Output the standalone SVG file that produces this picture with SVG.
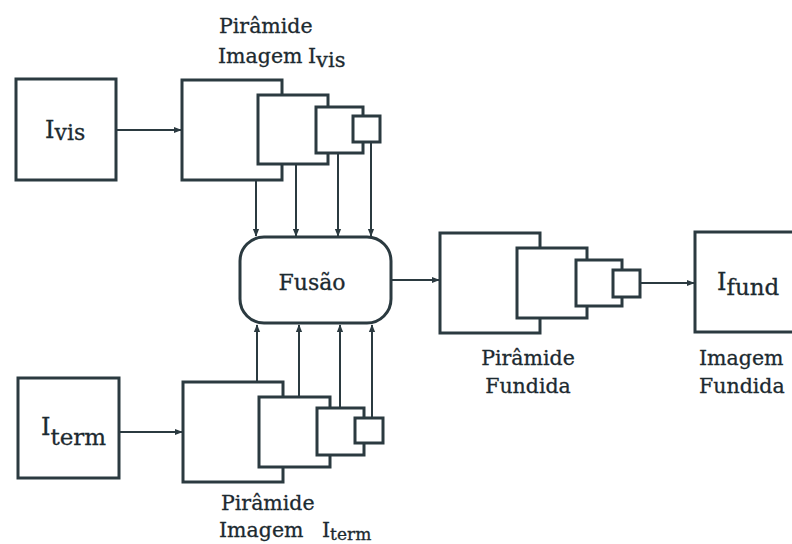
<svg xmlns="http://www.w3.org/2000/svg" width="792" height="544" viewBox="0 0 792 544">
<defs>
<marker id="ah" viewBox="0 0 10 10" refX="9" refY="5" markerWidth="4" markerHeight="4" orient="auto" markerUnits="strokeWidth">
<path d="M0,1 L10,5 L0,9 z" fill="#2b3a40"/>
</marker>
<style>
.b{fill:#fff;stroke:#2b3a40;stroke-width:3}
.c{stroke:#2b3a40;stroke-width:2;fill:none;marker-end:url(#ah)}
text{font-family:"DejaVu Serif","Liberation Serif",serif;fill:#1c2a30;stroke:#1c2a30;stroke-width:0.3}
.l{font-size:20.5px}
</style>
</defs>
<rect width="792" height="544" fill="#fff"/>
<g id="connectors">
<line class="c" x1="116" y1="130" x2="181" y2="130"/>
<line class="c" x1="119" y1="432" x2="182" y2="432"/>
<line class="c" x1="256" y1="180" x2="256" y2="236"/>
<line class="c" x1="296" y1="164" x2="296" y2="236"/>
<line class="c" x1="338" y1="153" x2="338" y2="236"/>
<line class="c" x1="371" y1="142" x2="371" y2="236"/>
<line class="c" x1="257" y1="382" x2="257" y2="325"/>
<line class="c" x1="299" y1="397" x2="299" y2="325"/>
<line class="c" x1="340" y1="408" x2="340" y2="325"/>
<line class="c" x1="372" y1="418" x2="372" y2="325"/>
<line class="c" x1="391" y1="280" x2="439" y2="280"/>
<line class="c" x1="640" y1="283" x2="694" y2="283"/>
</g>
<g id="ivis">
<rect class="b" x="16" y="79" width="100" height="101"/>
<text x="45" y="138" font-size="24">I<tspan font-size="22" dy="2">vis</tspan></text>
</g>
<g id="iterm">
<rect class="b" x="18" y="378" width="101" height="100"/>
<text x="41" y="435" font-size="24">I<tspan font-size="23" dy="10">term</tspan></text>
</g>
<g id="pyr-vis">
<rect class="b" x="182" y="80" width="100" height="100"/>
<rect class="b" x="258" y="95" width="70" height="69"/>
<rect class="b" x="316" y="107" width="47" height="46"/>
<rect class="b" x="353" y="116" width="27" height="26"/>
<text class="l" x="219" y="33">Pirâmide</text>
<text class="l" x="218" y="63">Imagem</text>
<text class="l" x="308" y="63">I<tspan font-size="21" dy="4">vis</tspan></text>
</g>
<g id="pyr-term">
<rect class="b" x="183" y="382" width="100" height="100"/>
<rect class="b" x="259" y="397" width="71" height="70"/>
<rect class="b" x="317" y="408" width="47" height="47"/>
<rect class="b" x="355" y="418" width="28" height="25"/>
<text class="l" x="221" y="510">Pirâmide</text>
<text class="l" x="219" y="537">Imagem</text>
<text class="l" x="322" y="537">I<tspan font-size="17" dy="3">term</tspan></text>
</g>
<g id="fusao">
<rect class="b" x="240" y="237" width="151" height="86" rx="24" ry="24"/>
<text x="312" y="290" font-size="22" text-anchor="middle">Fusão</text>
</g>
<g id="pyr-fund">
<rect class="b" x="440" y="233" width="100" height="100"/>
<rect class="b" x="517" y="248" width="70" height="70"/>
<rect class="b" x="576" y="260" width="46" height="46"/>
<rect class="b" x="613" y="270" width="27" height="27"/>
<text class="l" x="528" y="365" text-anchor="middle">Pirâmide</text>
<text class="l" x="528" y="393" text-anchor="middle">Fundida</text>
</g>
<g id="ifund">
<rect class="b" x="695" y="232" width="110" height="100"/>
<text x="717" y="290" font-size="24">I<tspan font-size="23" dy="5">fund</tspan></text>
<text class="l" x="699" y="365">Imagem</text>
<text class="l" x="699" y="393">Fundida</text>
</g>
</svg>
